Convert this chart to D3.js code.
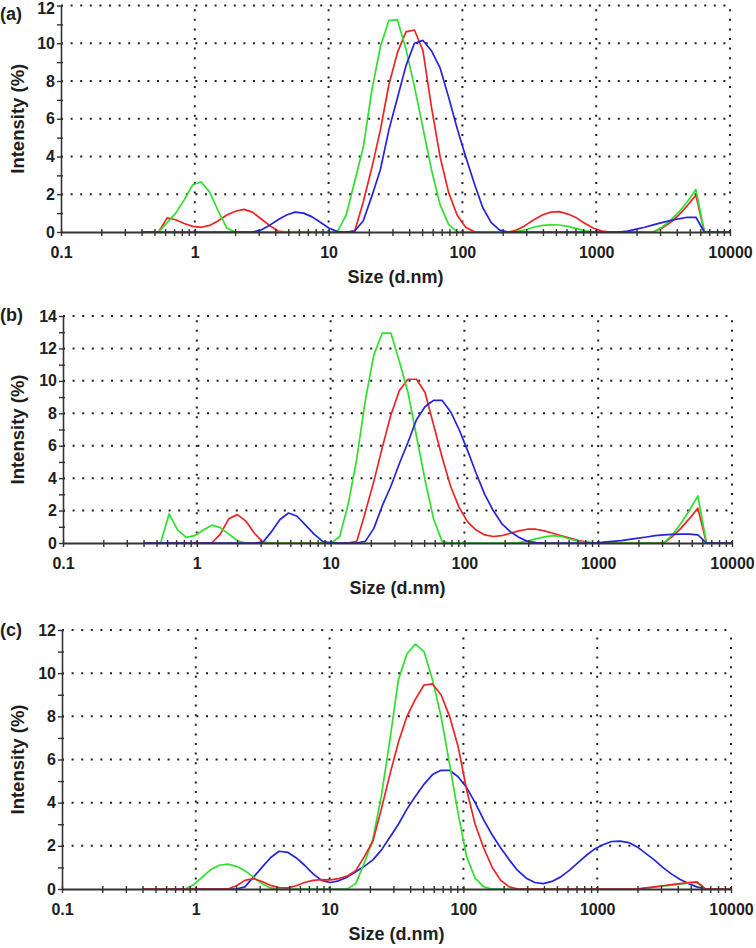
<!DOCTYPE html>
<html><head><meta charset="utf-8">
<script src="https://cdn.jsdelivr.net/npm/d3@7"></script>
<style>
body{margin:0;background:#fff;}
svg{display:block;font-family:"Liberation Sans",Arial,sans-serif;}
</style></head><body>
<svg id="chart" width="756" height="948"></svg>
<script>
// ---- DATA ----
const sizes = [0.4, 0.4632, 0.5365, 0.6213, 0.7195, 0.8332, 0.9649, 1.117, 1.294, 1.499,
 1.736, 2.01, 2.328, 2.696, 3.122, 3.615, 4.187, 4.849, 5.615, 6.503,
 7.531, 8.721, 10.1, 11.7, 13.54, 15.69, 18.17, 21.04, 24.36, 28.21,
 32.67, 37.84, 43.82, 50.75, 58.77, 68.06, 78.82, 91.28, 105.7, 122.4,
 141.8, 164.2, 190.1, 220.2, 255, 295.3, 342, 396.1, 458.7, 531.2,
 615.1, 712.4, 825, 955.4, 1106, 1281, 1484, 1718, 1990, 2305,
 2669, 3091, 3580, 4145, 4801, 5560, 6439, 7456, 8635, 10000];

const panelLabels = ["(a)", "(b)", "(c)"];
const yMaxValues = [12, 14, 12];
const xTickValues = [0.1, 1, 10, 100, 1000, 10000];
const xTitle = "Size (d.nm)";
const yTitle = "Intensity (%)";

const redA = [0,0,0,0.75,0.65,0.45,0.3,0.25,0.35,0.6,
 0.9,1.1,1.2,1.05,0.7,0.35,0.05,0,0,0,
 0,0,0,0,0,0.05,1.6,3.4,5.4,7.8,
 9.5,10.6,10.7,9.6,6.6,4.0,2.1,0.9,0.25,0.02,
 0,0,0,0,0.1,0.35,0.65,0.9,1.05,1.08,
 0.95,0.75,0.45,0.2,0.05,0,0,0,0,0,
 0,0.2,0.5,0.9,1.4,1.95,0,0,0,0];
const greenA = [0,0,0,0.5,1.0,1.7,2.5,2.65,2.1,1.1,
 0.2,0,0,0,0,0,0,0,0,0,
 0,0,0,0.05,0.9,2.7,4.5,7.5,9.8,11.2,
 11.25,9.7,7.7,5.5,3.3,1.45,0.4,0,0,0,
 0,0,0,0,0.02,0.12,0.25,0.35,0.38,0.37,
 0.3,0.18,0.06,0,0,0,0,0,0,0,
 0,0.25,0.6,1.05,1.6,2.25,0,0,0,0];
const blueA = [0,0,0,0,0,0,0,0,0,0,
 0,0,0,0,0.1,0.35,0.65,0.9,1.05,1.0,
 0.8,0.5,0.2,0.02,0,0.05,0.6,1.9,3.3,5.4,
 7.1,8.8,10.0,10.15,9.6,8.7,7.15,5.5,4.0,2.6,
 1.3,0.5,0.1,0,0,0,0,0,0,0,
 0,0,0,0,0,0,0,0.05,0.15,0.25,
 0.38,0.5,0.6,0.7,0.78,0.78,0,0,0,0];

const redB = [0,0,0,0,0,0,0,0,0,0.55,
 1.5,1.75,1.35,0.6,0.05,0,0,0,0,0,
 0,0,0,0,0,0.1,1.9,3.8,5.9,7.9,
 9.4,10.1,10.1,9.3,7.3,5.3,3.5,2.2,1.3,0.8,
 0.5,0.4,0.45,0.6,0.75,0.85,0.85,0.75,0.6,0.45,
 0.3,0.15,0.05,0,0,0,0,0,0,0,
 0,0,0.4,0.9,1.5,2.15,0,0,0,0];
const greenB = [0,0,0,1.8,0.8,0.35,0.45,0.8,1.1,0.95,
 0.55,0.15,0,0,0,0,0,0,0,0,
 0,0,0,0.4,2.4,5.2,8.8,11.6,12.95,12.95,
 11.2,9.3,6.6,3.9,1.5,0.1,0,0,0,0,
 0,0,0,0,0.02,0.12,0.25,0.38,0.45,0.4,
 0.25,0.1,0.02,0,0,0,0,0,0,0,
 0,0,0.5,1.2,2.0,2.9,0,0,0,0];
const blueB = [0,0,0,0,0,0,0,0,0,0,
 0,0,0,0,0.05,0.7,1.45,1.85,1.65,1.1,
 0.55,0.1,0,0,0,0,0.1,0.9,2.3,3.5,
 4.9,6.2,7.6,8.4,8.8,8.8,8.1,7.0,5.7,4.3,
 3.0,2.0,1.2,0.7,0.35,0.1,0.02,0,0,0,
 0,0,0,0,0.05,0.1,0.15,0.22,0.3,0.37,
 0.45,0.5,0.53,0.55,0.55,0.5,0,0,0,0];

const redC = [0,0,0,0,0,0,0,0,0,0,
 0,0.15,0.4,0.48,0.35,0.17,0.07,0.05,0.15,0.3,
 0.4,0.43,0.42,0.48,0.6,0.85,1.5,2.2,3.7,5.3,
 6.8,8.0,8.8,9.45,9.5,9.0,8.0,6.6,4.6,3.0,
 1.9,1.0,0.4,0.1,0,0,0,0,0,0,
 0,0,0,0,0,0,0,0,0,0.05,
 0.1,0.15,0.2,0.25,0.3,0.33,0,0,0,0];
const greenC = [0,0,0,0,0,0,0.2,0.55,0.9,1.1,
 1.15,1.05,0.85,0.55,0.25,0.05,0,0,0,0,
 0,0,0,0,0,0.25,1.2,2.3,4.3,6.9,
 9.7,10.9,11.35,11.0,9.7,8.0,5.8,3.5,1.5,0.5,
 0.1,0,0,0,0,0,0,0,0,0,
 0,0,0,0,0,0,0,0,0,0.04,
 0.08,0.13,0.18,0.22,0.27,0.3,0,0,0,0];
const blueC = [0,0,0,0,0,0,0,0,0,0,
 0,0,0.1,0.55,1.0,1.45,1.75,1.7,1.45,1.1,
 0.7,0.4,0.3,0.38,0.55,0.8,1.05,1.35,1.8,2.4,
 3.0,3.7,4.3,4.85,5.3,5.5,5.5,5.2,4.7,4.0,
 3.2,2.5,1.9,1.35,0.85,0.5,0.3,0.25,0.35,0.55,
 0.85,1.2,1.55,1.85,2.05,2.2,2.22,2.15,1.95,1.65,
 1.35,1.0,0.7,0.45,0.25,0.1,0,0,0,0];

const panelSeries = [
  {red: redA, green: greenA, blue: blueA},
  {red: redB, green: greenB, blue: blueB},
  {red: redC, green: greenC, blue: blueC}
];

// ---- LAYOUT / STYLE ----
const colors = {red: "#ee2424", green: "#2ee02e", blue: "#2424dc"};
const layout = [
  {x0: 61, x1: 730, yTop: 5.5, yBase: 232, labelY: 20, order: ["red","green","blue"]},
  {x0: 63, x1: 732, yTop: 316, yBase: 543, labelY: 321, order: ["red","green","blue"]},
  {x0: 62, x1: 731, yTop: 630, yBase: 889, labelY: 636, order: ["blue","green","red"]}
];
const textColor = "#1e1e1e";
const svg = d3.select("#chart");

layout.forEach((L, p) => {
  const ymax = yMaxValues[p];
  const x = d3.scaleLog().domain([xTickValues[0], xTickValues[xTickValues.length-1]]).range([L.x0, L.x1]);
  const y = d3.scaleLinear().domain([0, ymax]).range([L.yBase, L.yTop]);
  const g = svg.append("g");

  // grid (dotted)
  const evenTicks = d3.range(2, ymax + 1, 2);
  g.selectAll(".hg").data(evenTicks).join("line")
    .attr("x1", L.x0).attr("x2", L.x1)
    .attr("y1", d => y(d)).attr("y2", d => y(d))
    .attr("stroke", "#222").attr("stroke-width", 2)
    .attr("stroke-dasharray", "2,7.6");
  g.selectAll(".vg").data(xTickValues.slice(1)).join("line")
    .attr("x1", d => x(d)).attr("x2", d => x(d))
    .attr("y1", L.yBase).attr("y2", L.yTop)
    .attr("stroke", "#222").attr("stroke-width", 2)
    .attr("stroke-dasharray", "2,7.6");

  // series lines
  const line = d3.line().x((d, i) => x(sizes[i])).y(d => y(d));
  L.order.forEach(key => {
    g.append("path").datum(panelSeries[p][key])
      .attr("d", line).attr("fill", "none")
      .attr("stroke", colors[key]).attr("stroke-width", 1.7)
      .attr("stroke-linejoin", "round");
  });

  // y axis
  const yAxis = d3.axisLeft(y).tickValues(d3.range(0, ymax + 1, 1))
    .tickSize(4).tickSizeOuter(0).tickPadding(2)
    .tickFormat(d => d % 2 === 0 ? d : "");
  const ya = g.append("g").attr("transform", `translate(${L.x0},0)`).call(yAxis);
  ya.select(".domain").attr("stroke", "#333").attr("stroke-width", 1.6);
  ya.selectAll(".tick line").attr("x1", 2).attr("x2", -4).attr("stroke", "#333").attr("stroke-width", 1.4);
  ya.selectAll("text").attr("font-size", 16).attr("font-weight", "bold")
    .attr("fill", textColor).attr("font-family", "Liberation Sans, Arial, sans-serif")
    .attr("y", d => (y(d) < 8 ? 8 - y(d) : 0));

  // x axis
  const xAxis = d3.axisBottom(x).tickValues(x.ticks())
    .tickSize(4).tickSizeOuter(0)
    .tickFormat(d => {
      const m = xTickValues.find(v => Math.abs(v - d) / v < 1e-6);
      return m === undefined ? "" : String(m);
    });
  const xa = g.append("g").attr("transform", `translate(0,${L.yBase})`).call(xAxis);
  xa.select(".domain").attr("stroke", "#333").attr("stroke-width", 1.8);
  xa.selectAll(".tick line").attr("y1", -3).attr("y2", 4).attr("stroke", "#333").attr("stroke-width", 1.4);
  xa.selectAll("text").attr("y", 14.6).attr("font-size", 16).attr("font-weight", "bold")
    .attr("fill", textColor).attr("font-family", "Liberation Sans, Arial, sans-serif");

  // titles
  g.append("text").attr("x", 0).attr("y", L.labelY)
    .attr("font-size", 18).attr("font-weight", "bold").attr("fill", textColor)
    .text(panelLabels[p]);
  g.append("text")
    .attr("transform", `translate(${24},${(L.yTop + L.yBase) / 2}) rotate(-90)`)
    .attr("text-anchor", "middle")
    .attr("font-size", 18.5).attr("font-weight", "bold").attr("fill", textColor)
    .text(yTitle);
  g.append("text").attr("x", (L.x0 + L.x1) / 2).attr("y", L.yBase + 51)
    .attr("text-anchor", "middle")
    .attr("font-size", 18).attr("font-weight", "bold").attr("fill", textColor)
    .text(xTitle);
});
</script>
</body></html>
